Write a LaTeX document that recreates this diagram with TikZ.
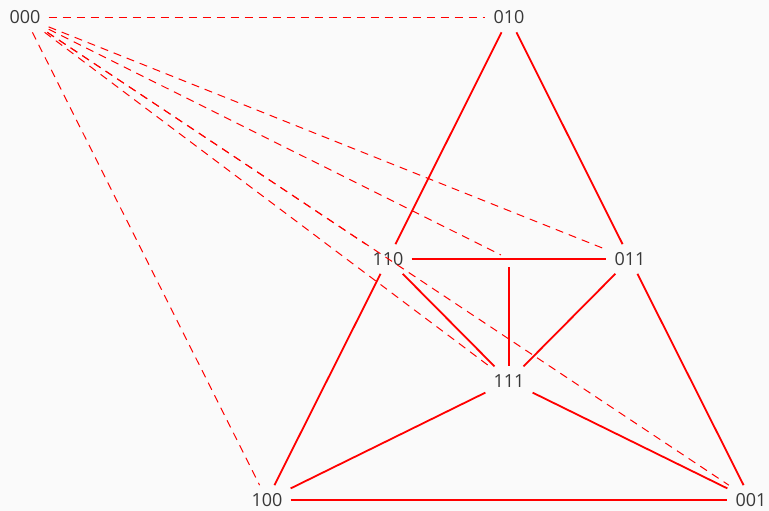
\documentclass[tikz,border=0pt]{standalone}
\usepackage{fontspec}
\setsansfont{Open Sans}
\begin{document}
\begin{tikzpicture}[x=1pt, y=-1pt,
  vertex/.style={inner sep=8pt, text=black!78, font=\sffamily\fontsize{18}{18}\selectfont},
  edge/.style={red, line width=1.8pt},
  back/.style={red, line width=1pt, dash pattern=on 8pt off 6pt}]
  \fill[black!2] (0,0) rectangle (769,511);
  \useasboundingbox (0,0) rectangle (769,511);
  % vertices
  \node[vertex] (v000) at (25,17.5) {000};
  \node[vertex] (v010) at (509,17.5) {010};
  \node[vertex] (v110) at (388,259) {110};
  \node[vertex] (v101) at (509,259) {};
  \node[vertex] (v011) at (630,259) {011};
  \node[vertex] (v111) at (509,381) {111};
  \node[vertex] (v100) at (267,500) {100};
  \node[vertex] (v001) at (751,500) {001};
  % dashed edges out of 000
  \foreach \v in {010,011,101,110,111,001,100}
    \draw[back] (v000) -- (v\v);
  % solid edges
  \draw[edge] (v010) -- (v110);
  \draw[edge] (v010) -- (v011);
  \draw[edge] (v110) -- (v011);
  \draw[edge] (v101) -- (v011);
  \draw[edge] (v101) -- (v111);
  \draw[edge] (v110) -- (v111);
  \draw[edge] (v011) -- (v111);
  \draw[edge] (v110) -- (v100);
  \draw[edge] (v011) -- (v001);
  \draw[edge] (v111) -- (v100);
  \draw[edge] (v111) -- (v001);
  \draw[edge] (v100) -- (v001);
\end{tikzpicture}
\end{document}
